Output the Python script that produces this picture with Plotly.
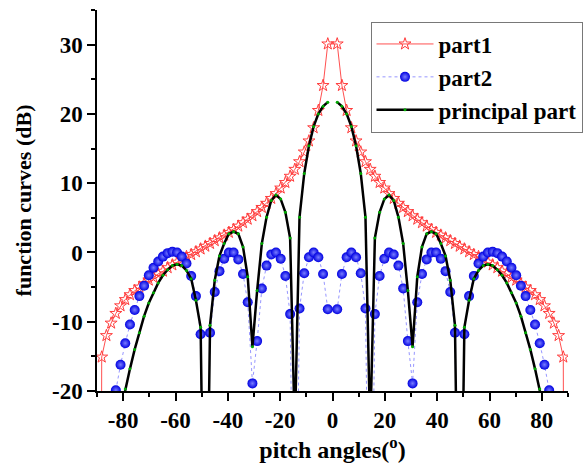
import plotly.graph_objects as go

# pitch angle grid (degrees)
angles_left = [-90, -88.2, -86.4, -84.6, -82.8, -81, -79.2, -77.4, -75.6, -73.8,
               -72, -70.2, -68.4, -66.6, -64.8, -63, -61.2, -59.4, -57.6, -55.8,
               -54, -52.2, -50.4, -48.6, -46.8, -45, -43.2, -41.4, -39.6, -37.8,
               -36, -34.2, -32.4, -30.6, -28.8, -27, -25.2, -23.4, -21.6, -19.8,
               -18, -16.2, -14.4, -12.6, -10.8, -9, -7.2, -5.4, -3.6, -1.8]
angles_right = [1.8, 3.6, 5.4, 7.2, 9, 10.8, 12.6, 14.4, 16.2, 18,
                19.8, 21.6, 23.4, 25.2, 27, 28.8, 30.6, 32.4, 34.2, 36,
                37.8, 39.6, 41.4, 43.2, 45, 46.8, 48.6, 50.4, 52.2, 54,
                55.8, 57.6, 59.4, 61.2, 63, 64.8, 66.6, 68.4, 70.2, 72,
                73.8, 75.6, 77.4, 79.2, 81, 82.8, 84.6, 86.4, 88.2, 90]
angles = angles_left + [0] + angles_right

# part1 (dB)
part1_left = [-300, -15.1, -12.0, -10.2, -8.8, -7.7, -6.8, -6.1, -5.5, -5.0,
              -4.5, -4.0, -3.6, -3.1, -2.7, -2.2, -1.8, -1.4, -1.0, -0.6,
              -0.3, 0.1, 0.5, 0.9, 1.3, 1.7, 2.1, 2.5, 2.9, 3.3,
              3.8, 4.3, 4.8, 5.3, 5.9, 6.5, 7.1, 7.8, 8.5, 9.3,
              10.1, 11.0, 12.0, 13.1, 14.5, 16.1, 18.0, 20.5, 24.1, 30.1]
part1_right = [30.1, 24.1, 20.5, 18.0, 16.1, 14.5, 13.1, 12.0, 11.0, 10.1,
               9.3, 8.5, 7.8, 7.1, 6.5, 5.9, 5.3, 4.8, 4.3, 3.8,
               3.3, 2.9, 2.5, 2.1, 1.7, 1.3, 0.9, 0.5, 0.1, -0.3,
               -0.6, -1.0, -1.4, -1.8, -2.2, -2.7, -3.1, -3.6, -4.0, -4.5,
               -5.0, -5.5, -6.1, -6.8, -7.7, -8.8, -10.2, -12.0, -15.1, -300]
part1 = part1_left + [None] + part1_right

# part2 (dB)
part2_left = [None, None, None, None, -19.9, -16.2, -13.1, -10.4, -8.3, -6.3,
              -4.8, -3.3, -2.2, -1.3, -0.6, -0.1, 0.1, 0.0, -0.6, -1.6,
              -3.4, -6.3, -11.8, -60, -11.6, -5.7, -2.7, -0.9, 0.0, 0.0,
              -1.0, -3.1, -7.2, -18.9, -12.8, -5.2, -1.9, -0.3, 0.0, -0.9,
              -3.4, -8.9, -60, -8.1, -3.0, -0.7, 0.0, -0.7, -3.1, -8.2]
part2_right = [-8.2, -3.1, -0.7, 0.0, -0.7, -3.0, -8.1, -60, -8.9, -3.4,
               -0.9, 0.0, -0.3, -1.9, -5.2, -12.8, -18.9, -7.2, -3.1, -1.0,
               0.0, 0.0, -0.9, -2.7, -5.7, -11.6, -60, -11.8, -6.3, -3.4,
               -1.6, -0.6, 0.0, 0.1, -0.1, -0.6, -1.3, -2.2, -3.3, -4.8,
               -6.3, -8.3, -10.4, -13.1, -16.2, -19.9, None, None, None, None]
part2 = part2_left + [None] + part2_right

# principal part (dB)
principal_left = [None, None, None, None, None, -23.0, -19.7, -16.8, -14.0, -11.6,
                  -9.2, -7.3, -5.8, -4.4, -3.3, -2.5, -1.9, -1.7, -1.9, -2.6,
                  -3.8, -6.9, -10.8, -60, -10.5, -4.0, -0.5, 1.3, 2.7, 3.0,
                  2.7, 0.8, -3.5, -13.6, -5.5, 1.3, 5.1, 7.5, 8.3, 7.7,
                  5.8, 2.1, -26, 5.1, 11.4, 15.4, 18.2, 20.0, 21.1, 21.7]
principal_right = [21.7, 21.1, 20.0, 18.2, 15.4, 11.4, 5.1, -26, 2.1, 5.8,
                   7.7, 8.3, 7.5, 5.1, 1.3, -5.5, -13.6, -3.5, 0.8, 2.7,
                   3.0, 2.7, 1.3, -0.5, -4.0, -10.5, -60, -10.8, -6.9, -3.8,
                   -2.6, -1.9, -1.7, -1.9, -2.5, -3.3, -4.4, -5.8, -7.3, -9.2,
                   -11.6, -14.0, -16.8, -19.7, -23.0, None, None, None, None, None]
principal = principal_left + [None] + principal_right

x_tickvals = [-80, -60, -40, -20, 0, 20, 40, 60, 80]
x_ticktext = ["-80", "-60", "-40", "-20", "0", "20", "40", "60", "80"]
x_minor = [-90, -70, -50, -30, -10, 10, 30, 50, 70, 90]
y_tickvals = [-20, -10, 0, 10, 20, 30]
y_ticktext = ["-20", "-10", "0", "10", "20", "30"]
y_minor = [-15, -5, 5, 15, 25, 35]

FONT = "Liberation Serif, Times New Roman, serif"

fig = go.Figure()
fig.add_trace(go.Scatter(
    x=angles, y=part1, name="part1", mode="lines+markers", connectgaps=True,
    line=dict(color="rgb(255,80,80)", width=1),
    marker=dict(symbol="star-open", size=9, color="rgb(255,60,60)",
                line=dict(width=1, color="rgb(255,60,60)")),
    legendgroup="a"))
fig.add_trace(go.Scatter(
    x=angles, y=part2, name="part2", mode="lines+markers", connectgaps=True,
    line=dict(color="rgb(150,150,255)", width=1, dash="dot"),
    marker=dict(symbol="circle", size=10, color="rgb(0,0,225)",
                gradient=dict(type="radial", color="rgb(120,125,255)"),
                line=dict(width=0)),
    legendgroup="b"))
fig.add_trace(go.Scatter(
    x=angles, y=principal, name="principal part", mode="lines+markers",
    connectgaps=False,
    line=dict(color="black", width=2.5),
    marker=dict(symbol="circle", size=3, color="rgb(0,170,0)", line=dict(width=0)),
    legendgroup="c"))

axis_common = dict(
    showline=True, linecolor="black", linewidth=1.5,
    ticks="outside", ticklen=8, tickwidth=1.5, tickcolor="black",
    showgrid=False, zeroline=False, mirror=False, automargin=False,
    tickfont=dict(family=FONT, size=23, color="black", weight="bold"),
)

fig.update_xaxes(
    range=[-90, 90], tickmode="array", tickvals=x_tickvals, ticktext=x_ticktext,
    minor=dict(tickmode="array", tickvals=x_minor, ticklen=4, tickwidth=1.5,
               tickcolor="black", ticks="outside"),
    title=dict(text="pitch angles(<sup>o</sup>)", standoff=1,
               font=dict(family=FONT, size=24, color="black", weight="bold")),
    **axis_common)
fig.update_yaxes(
    range=[-20, 35], tickmode="array", tickvals=y_tickvals, ticktext=y_ticktext,
    minor=dict(tickmode="array", tickvals=y_minor, ticklen=4, tickwidth=1.5,
               tickcolor="black", ticks="outside"),
    title=dict(text="function curves (dB)", standoff=14,
               font=dict(family=FONT, size=22, color="black", weight="bold")),
    **axis_common)

fig.update_layout(
    width=587, height=464,
    margin=dict(l=97, r=19, t=10, b=73, autoexpand=False),
    paper_bgcolor="white", plot_bgcolor="white",
    showlegend=True,
    legend=dict(xref="container", yref="container",
                x=370.5 / 587, y=1 - 21.5 / 464, xanchor="left", yanchor="top",
                bgcolor="white", bordercolor="rgb(120,120,120)", borderwidth=1,
                font=dict(family=FONT, size=23, color="black", weight="bold"),
                itemwidth=57, tracegroupgap=0, traceorder="grouped"),
)

fig.write_html("out.html")
